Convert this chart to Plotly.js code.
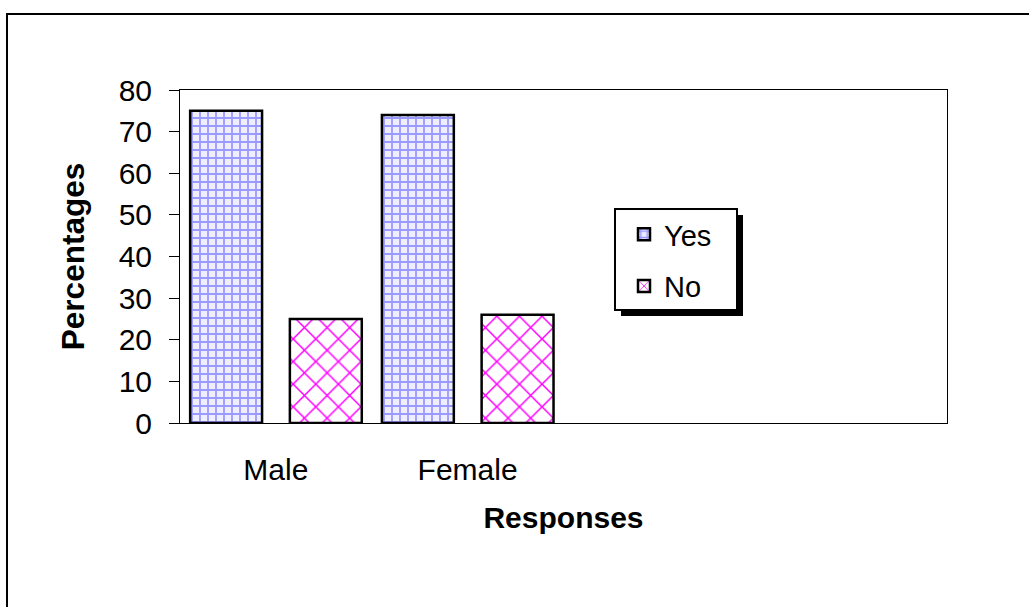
<!DOCTYPE html>
<html>
<head>
<meta charset="utf-8">
<script src="https://cdn.plot.ly/plotly-3.0.1.min.js"></script>
<style>html,body{margin:0;padding:0;background:#fff;}#chart{width:1029px;height:607px;}</style>
</head>
<body>
<div id="chart"></div>
<script>
// ---- data ----
const categories = ['Male', 'Female'];
const seriesNames = ['Yes', 'No'];
const yesValues = [75, 74];
const noValues = [25, 26];
const yTickValues = [0, 10, 20, 30, 40, 50, 60, 70, 80];

// ---- layout helpers (pixel geometry of the plot area) ----
const W = 1029, H = 607;
const PL = 180, PR = 947, PT = 90, PB = 423;
const px = v => (v - PL) / (PR - PL);
const py = v => (PB - v) / (PB - PT);
const FONT = 'Arial, "Liberation Sans", sans-serif';

const xPos = categories.map((c, i) => i);
const emptySlots = 2;

const traces = [
  {
    type: 'bar', name: seriesNames[0], x: xPos, y: yesValues,
    width: 0.375, offset: -0.447, legendgroup: 'a',
    marker: {
      color: '#9999FF',
      line: {color: '#000', width: 2.5},
      pattern: {shape: '+', fgcolor: '#9999FF', bgcolor: '#EEEEFF', size: 8, solidity: 0.4}
    },
    hoverinfo: 'y'
  },
  {
    type: 'bar', name: seriesNames[1], x: xPos, y: noValues,
    width: 0.375, offset: 0.073, legendgroup: 'b',
    marker: {
      color: '#FF00FF',
      line: {color: '#000', width: 2.5},
      pattern: {shape: 'x', fgcolor: '#FF00FF', bgcolor: '#FFFFFF', size: 16, solidity: 0.18}
    },
    hoverinfo: 'y'
  }
];

const layout = {
  width: W, height: H,
  margin: {l: PL, r: W - PR, t: PT, b: H - PB, pad: 0},
  paper_bgcolor: '#fff', plot_bgcolor: '#fff',
  font: {family: FONT, color: '#000', size: 30},
  barmode: 'group',
  showlegend: true,
  legend: {
    x: px(624), y: py(209), xanchor: 'left', yanchor: 'top',
    bgcolor: 'rgba(0,0,0,0)', borderwidth: 0,
    font: {family: FONT, size: 29, color: '#000'},
    traceorder: 'grouped', tracegroupgap: 11
  },
  xaxis: {
    range: [-0.5, categories.length + emptySlots - 0.5],
    tickmode: 'array', tickvals: xPos, ticktext: categories,
    ticks: '', showgrid: false, zeroline: false,
    showline: true, linecolor: '#000', linewidth: 1, mirror: true,
    tickfont: {family: FONT, size: 30, color: '#000'},
    ticklabelstandoff: 20,
    title: {text: '<b>Responses</b>', font: {family: FONT, size: 30, color: '#000'}, standoff: 21},
    automargin: false, fixedrange: true
  },
  yaxis: {
    range: [0, 80], tickmode: 'array', tickvals: yTickValues,
    ticks: 'outside', ticklen: 10, tickwidth: 1, tickcolor: '#000',
    showgrid: false, zeroline: false,
    showline: true, linecolor: '#000', linewidth: 1, mirror: true,
    tickfont: {family: FONT, size: 30, color: '#000'},
    ticklabelstandoff: 11,
    title: {text: '<b>Percentages</b>', font: {family: FONT, size: 31.5, color: '#000'}, standoff: 24},
    automargin: false, fixedrange: true
  },
  shapes: [
    // outer chart border
    {type: 'rect', xref: 'paper', yref: 'paper', x0: px(7), x1: 2, y0: -2, y1: py(14),
     line: {color: '#000', width: 2}, fillcolor: 'rgba(0,0,0,0)', layer: 'below'},
    // legend shadow
    {type: 'rect', xref: 'paper', yref: 'paper', x0: px(621), x1: px(743), y0: py(316), y1: py(215),
     line: {width: 0}, fillcolor: '#000', layer: 'above'},
    // legend box
    {type: 'rect', xref: 'paper', yref: 'paper', x0: px(615), x1: px(737), y0: py(310), y1: py(209),
     line: {color: '#000', width: 2}, fillcolor: '#fff', layer: 'above'}
  ]
};

Plotly.newPlot('chart', traces, layout, {displayModeBar: false, staticPlot: true});
</script>
</body>
</html>
